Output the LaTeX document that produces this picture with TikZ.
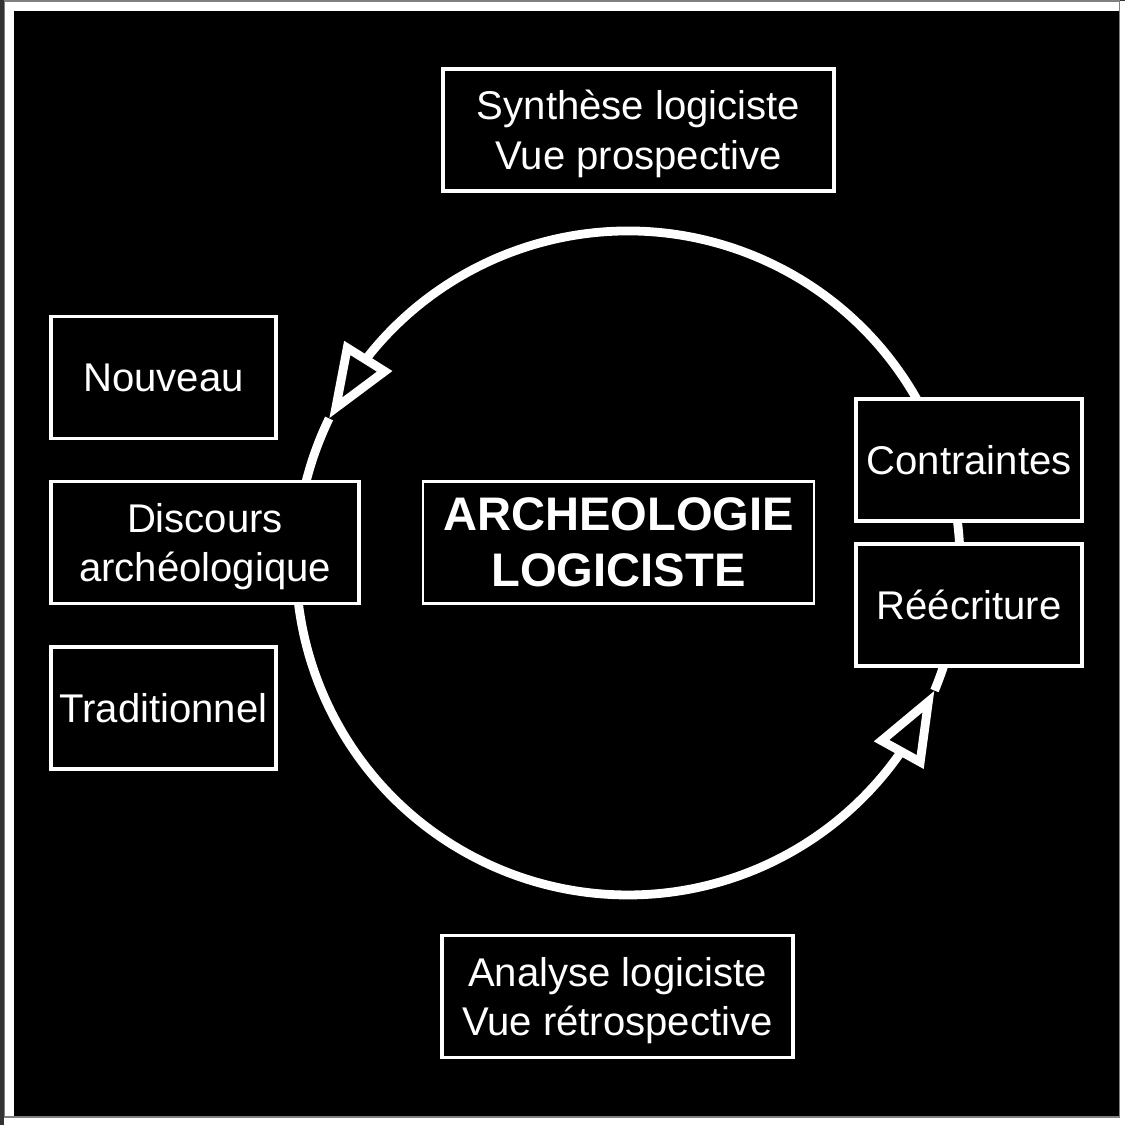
\documentclass[tikz,border=0pt]{standalone}
\usepackage{fontspec}
\setmainfont{Liberation Sans}
\usetikzlibrary{arrows.meta,bending}

\begin{document}
\begin{tikzpicture}[
x=0.01cm, y=0.01cm,
boite/.style={draw=white, line width=1.1pt, fill=black, text=white, align=center,
  inner sep=0pt, minimum height=1.22cm, text depth=0pt, font=\fontsize{11.4}{14.2}\selectfont},
titre/.style={draw=white, line width=0.6pt, fill=black, text=white, align=center,
  inner sep=0pt, minimum height=1.22cm, font=\bfseries\fontsize{13.4}{16}\selectfont},
cycle/.style={draw=white, line width=2.5pt},
fleche/.style={-{Triangle[open, flex, length=21pt, width=15.5pt]}},
%every node/.style={scale=0.6},
]
% fond
\fill[white] (0,0) rectangle (1125,1125);
\fill[black!80] (0,0) rectangle (4,1125);
\fill[black!80] (0,1124) rectangle (1125,1125);
\draw[gray, line width=0.3pt] (4.5,8) rectangle (1119.5,1124);
\fill[black] (14,9) rectangle (1119,1114);

% le cycle
\coordinate (c) at (628,562);
\coordinate (p1) at ([shift={(-22.6:332)}]c);
\coordinate (p2) at ([shift={(154.2:332)}]c);
\draw[cycle, fleche] (p1) arc[start angle=-22.6, end angle=154.2, radius=332];
\draw[cycle, fleche] (p2) arc[start angle=154.2, end angle=337.4, radius=332];

\node[boite, minimum width=3.91cm] (synthese) at (638.5,995) {Synthèse logiciste\\Vue prospective};
\node[boite, minimum width=2.25cm] (nouveau) at (163.5,747.5) {Nouveau};
\node[boite, minimum width=3.08cm] (discours) at (205,582.5) {Discours\\archéologique};
\node[boite, minimum width=2.25cm] (traditionnel) at (163.5,417) {Traditionnel};
\node[titre, minimum width=3.91cm] (archeo) at (618.5,582.5) {ARCHEOLOGIE\\LOGICISTE};
\node[boite, minimum width=2.26cm] (contraintes) at (969,665) {Contraintes};
\node[boite, minimum width=2.26cm] (reecriture) at (969,520) {Réécriture};
\node[boite, minimum width=3.51cm] (analyse) at (617.5,128.5) {Analyse logiciste\\Vue rétrospective};
%\node[boite] at (618.5,300) {};
\end{tikzpicture}
\end{document}
